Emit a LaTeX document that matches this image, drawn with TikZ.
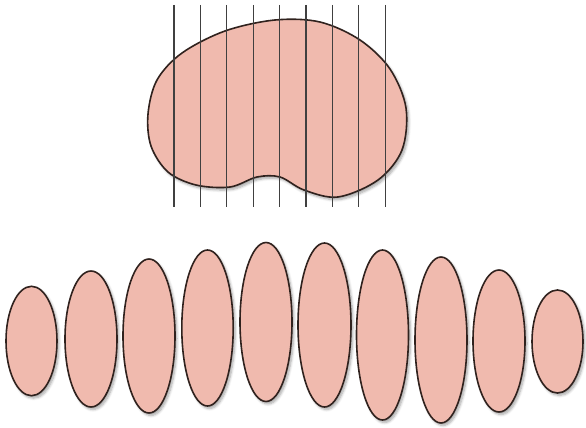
\documentclass[tikz,border=0pt]{standalone}
\usepackage{xcolor}
\usepackage{tikz}
\usetikzlibrary{shadows.blur}
\definecolor{flesh}{RGB}{240,186,174}
\definecolor{rim}{RGB}{48,34,30}
\tikzset{
  organ/.style={fill=flesh, draw=rim, line width=1.6pt,
    blur shadow={shadow xshift=2pt, shadow yshift=-2.5pt, shadow blur steps=6,
      shadow opacity=35, shadow blur radius=2.5pt}},
  cut/.style={draw=black!75, line width=1.1pt}
}
\begin{document}
\begin{tikzpicture}[x=1pt, y=-1pt]
\useasboundingbox (0,0) rectangle (586,428);
% ---- whole organ ----
\path[organ] plot[smooth cycle, tension=0.55] coordinates {
  (148,114) (157,80) (182,53) (225,31) (275,20) (320,22) (360,40) (390,69)
  (406,108) (402,150) (378,180) (338,197) (304,190) (280,177) (257,177)
  (230,187) (196,185) (168,172) (151,146)};
% ---- cutting planes ----
\foreach \x in {174,200.4,226.8,253.2,279.6,306,332.4,358.8,385.2}{
  \draw[cut] (\x,5) -- (\x,207);}
% ---- slices ----
\foreach \x/\y/\a/\b in {
  31.5/341/25.5/54.7, 91/339/26/68, 149/336/26/77, 207.5/328/25.7/78,
  266/322/26/79.5, 324.5/325/26.5/82, 382.5/335/26/85, 441/340/26/83,
  499/341/26/71, 557.5/341.5/25.5/51.5}{
  \path[organ] (\x,\y) ellipse [x radius=\a, y radius=\b];}
\end{tikzpicture}
\end{document}
